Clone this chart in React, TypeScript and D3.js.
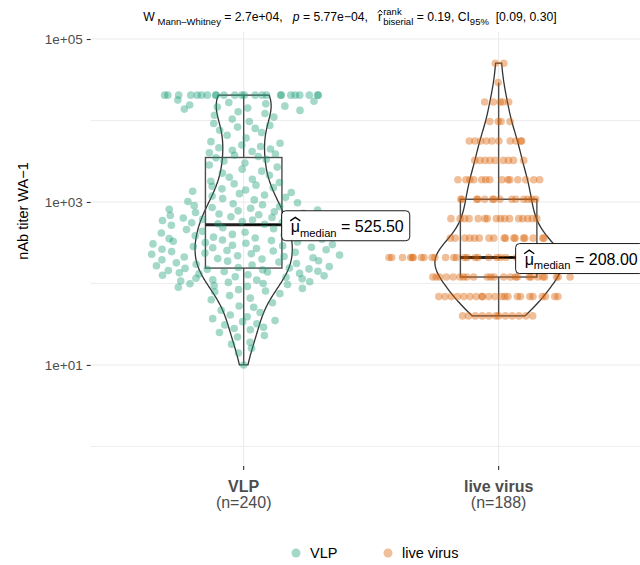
import { useEffect, useRef } from 'react'
import * as d3 from 'd3'

const groups = ['VLP', 'live virus']
const groupColors = ['#1B9E77', '#D95F02']

// VLP nAb titers, one value per sample (n = 240)
const vlpTiters = [
  10, 14, 16, 18, 19, 22, 23, 25, 27, 28, 29, 31, 32, 34, 35, 37, 39, 41, 44, 47,
  51, 53, 58, 63, 66, 71, 75, 79, 81, 84, 87, 90, 92, 94, 97, 99, 100, 103, 105, 107,
  110, 111, 114, 116, 119, 121, 124, 126, 128, 131, 133, 135, 138, 140, 141, 144, 147, 149, 151, 153,
  155, 157, 161, 165, 168, 172, 176, 179, 183, 188, 190, 195, 199, 202, 207, 211, 214, 219, 223, 228,
  232, 236, 241, 246, 250, 254, 259, 263, 269, 274, 278, 284, 289, 295, 300, 306, 312, 317, 323, 330,
  336, 342, 349, 355, 362, 370, 377, 385, 392, 400, 409, 417, 426, 436, 447, 458, 470, 483, 500, 519,
  532, 540, 548, 556, 565, 574, 583, 592, 602, 612, 623, 634, 646, 658, 671, 684, 698, 713, 728, 744,
  760, 778, 796, 815, 835, 856, 878, 901, 925, 950, 980, 1015, 1060, 1100, 1140, 1180, 1220, 1265, 1310, 1355,
  1400, 1450, 1500, 1555, 1610, 1670, 1730, 1800, 1900, 2010, 2130, 2260, 2390, 2530, 2680, 2840, 3010, 3190, 3330, 3480,
  3620, 3750, 3880, 4020, 4160, 4310, 4460, 4620, 4800, 5000, 5250, 5500, 6100, 6600, 7100, 7600, 8000, 8300, 8700, 9200,
  9700, 10400, 11000, 11600, 12200, 12800, 13300, 13800, 14200, 14600, 15000, 15500, 16000, 16600, 17200, 17800, 20480, 20480, 20480, 20480,
  20480, 20480, 20480, 20480, 20480, 20480, 20480, 20480, 20480, 20480, 20480, 20480, 20480, 20480, 20480, 20480, 20480, 20480, 20480, 20480,
]

// live virus titers sit on dilution steps; number of samples per step (n = 188)
const liveLevels = [40, 69, 120, 208, 360, 624, 1080, 1871, 3240, 5612, 9720, 16836, 29160, 50508]
const liveCounts = [12, 22, 24, 38, 17, 16, 14, 14, 9, 10, 4, 5, 1, 2]

const yTicks = [1e1, 1e3, 1e5]
const yTickLabels = ['1e+01', '1e+03', '1e+05']
const yMinorTicks = [1e0, 1e2, 1e4]

// subtitle pieces: [text, kind]
const titleParts: [string, string][] = [
  ['W', 'n'],
  [' Mann–Whitney', 'sub'],
  [' = 2.7e+04,   ', 'n'],
  ['p', 'i'],
  [' = 5.77e−04,   ', 'n'],
  ['r', 'hat'],
  ['rank|biserial', 'supsub'],
  [' = 0.19, CI', 'n'],
  ['95%', 'sub'],
  ['  [0.09, 0.30]', 'n'],
]

const FONT = '"Liberation Sans", Arial, Helvetica, sans-serif'

function vdc(n: number) {
  let v = 0
  let denom = 1
  while (n > 0) {
    denom *= 2
    v += (n % 2) / denom
    n = Math.floor(n / 2)
  }
  return v
}

function richText(parent: any, parts: [string, string][], x: number, base: number, size: number, subScale = 0.72) {
  const g = parent.append('g').attr('font-family', FONT).attr('fill', '#000')
  let cx = x
  const add = (txt: string, xx: number, yy: number, fs: number) =>
    g.append('text').attr('x', xx).attr('y', yy).attr('font-size', fs).style('white-space', 'pre').text(txt)
  for (const [txt, kind] of parts) {
    if (kind === 'supsub') {
      const [sup, sub] = txt.split('|')
      const a = add(sup, cx + 1, base - size * 0.5, size * subScale)
      const b = add(sub, cx + 1, base + size * 0.32, size * subScale)
      cx += Math.max(a.node().getComputedTextLength(), b.node().getComputedTextLength()) + 1
      continue
    }
    const small = kind === 'sub'
    const t = add(txt, cx, small ? base + size * 0.3 : base, small ? size * subScale : size)
    if (kind === 'i') t.attr('font-style', 'italic')
    const w = t.node().getComputedTextLength()
    if (kind === 'hat') {
      const top = base - size * 0.9
      g.append('path')
        .attr('d', `M${cx - w * 0.05},${top + size * 0.22}L${cx + w * 0.5},${top}L${cx + w * 1.05},${top + size * 0.22}`)
        .attr('fill', 'none')
        .attr('stroke', '#000')
        .attr('stroke-width', size * 0.08)
    }
    cx += w
  }
  return { g, width: cx - x }
}

export default function App() {
  const ref = useRef<SVGSVGElement>(null)

  useEffect(() => {
    const node = ref.current
    if (!node) return
    const svg = d3.select(node)
    svg.selectAll('*').remove()

    const panel = { left: 90.7, right: 651.6, top: 32, bottom: 466 }
    const x = d3.scalePoint<string>().domain(groups).range([panel.left, panel.right]).padding(0.6)
    const y = d3.scaleLog().domain([10 ** -0.24, 10 ** 5.086]).range([panel.bottom, panel.top])
    const step = x.step()

    const liveTiters = liveLevels.flatMap((v, i) => d3.range(liveCounts[i]).map(() => v))
    const data = [vlpTiters, liveTiters]

    // grid
    const grid = svg.append('g')
    grid
      .selectAll('line.minor')
      .data(yMinorTicks)
      .join('line')
      .attr('x1', panel.left)
      .attr('x2', panel.right)
      .attr('y1', (d) => y(d))
      .attr('y2', (d) => y(d))
      .attr('stroke', '#EBEBEB')
      .attr('stroke-width', 0.9)
    grid
      .selectAll('line.major')
      .data(yTicks)
      .join('line')
      .attr('x1', panel.left)
      .attr('x2', panel.right)
      .attr('y1', (d) => y(d))
      .attr('y2', (d) => y(d))
      .attr('stroke', '#EBEBEB')
      .attr('stroke-width', 1.1)
    grid
      .selectAll('line.vert')
      .data(groups)
      .join('line')
      .attr('x1', (d) => x(d)!)
      .attr('x2', (d) => x(d)!)
      .attr('y1', panel.top)
      .attr('y2', panel.bottom)
      .attr('stroke', '#EBEBEB')
      .attr('stroke-width', 1.1)

    // axes
    svg
      .append('g')
      .attr('transform', `translate(${panel.left},0)`)
      .call(d3.axisLeft(y).tickValues(yTicks).tickFormat((_, i) => yTickLabels[i]).tickSize(4).tickPadding(4))
      .call((g) => g.select('.domain').remove())
      .call((g) => g.selectAll('line').attr('stroke', '#333').attr('stroke-width', 1.1))
      .call((g) => g.selectAll('text').attr('fill', '#4D4D4D').attr('font-size', 13.5).attr('font-family', FONT))

    const xAxis = svg.append('g')
    groups.forEach((grp, i) => {
      const cx = x(grp)!
      xAxis.append('line').attr('x1', cx).attr('x2', cx).attr('y1', panel.bottom).attr('y2', panel.bottom + 4).attr('stroke', '#333').attr('stroke-width', 1.1)
      xAxis
        .append('text')
        .attr('x', cx)
        .attr('y', 492)
        .attr('text-anchor', 'middle')
        .attr('font-family', FONT)
        .attr('font-weight', 'bold')
        .attr('font-size', 16)
        .attr('fill', '#4D4D4D')
        .text(grp)
      xAxis
        .append('text')
        .attr('x', cx)
        .attr('y', 508)
        .attr('text-anchor', 'middle')
        .attr('font-family', FONT)
        .attr('font-size', 16)
        .attr('fill', '#4D4D4D')
        .text(`(n=${data[i].length})`)
    })

    svg
      .append('text')
      .attr('transform', 'translate(28,211) rotate(-90)')
      .attr('text-anchor', 'middle')
      .attr('font-family', FONT)
      .attr('font-size', 14.5)
      .attr('fill', '#000')
      .text('nAb titer WA−1')

    // violins (trimmed gaussian KDE on log10 values, area scaled)
    const logs = data.map((vals) => vals.map(Math.log10).sort(d3.ascending))
    const dens = logs.map((l) => {
      const n = l.length
      const iqr = d3.quantileSorted(l, 0.75)! - d3.quantileSorted(l, 0.25)!
      const bw = 0.9 * Math.min(d3.deviation(l)!, iqr / 1.34) * Math.pow(n, -0.2)
      const lo = l[0]
      const hi = l[n - 1]
      return d3.range(512).map((k) => {
        const t = lo + ((hi - lo) * k) / 511
        let s = 0
        for (const v of l) {
          const z = (t - v) / bw
          s += Math.exp(-0.5 * z * z)
        }
        return { t, d: s / (n * bw * Math.sqrt(2 * Math.PI)) }
      })
    })
    const maxD = d3.max(dens.flat(), (p) => p.d)!

    groups.forEach((grp, i) => {
      const cx = x(grp)!
      const area = d3
        .area<{ t: number; d: number }>()
        .y((p) => y(10 ** p.t))
        .x0((p) => cx - (p.d / maxD) * step * 0.25)
        .x1((p) => cx + (p.d / maxD) * step * 0.25)
      svg
        .append('path')
        .attr('d', area(dens[i]))
        .attr('fill', 'none')
        .attr('stroke', '#333')
        .attr('stroke-width', 1.3)
    })

    // boxplots on log scale
    groups.forEach((grp, i) => {
      const cx = x(grp)!
      const l = logs[i]
      const q1 = d3.quantileSorted(l, 0.25)!
      const med = d3.quantileSorted(l, 0.5)!
      const q3 = d3.quantileSorted(l, 0.75)!
      const iqr = q3 - q1
      const wHi = d3.max(l.filter((v) => v <= q3 + 1.5 * iqr))!
      const wLo = d3.min(l.filter((v) => v >= q1 - 1.5 * iqr))!
      const hw = step * 0.15
      const g = svg.append('g').attr('stroke', '#4D4D4D').attr('fill', 'none')
      g.append('line').attr('x1', cx).attr('x2', cx).attr('y1', y(10 ** q3)).attr('y2', y(10 ** wHi)).attr('stroke-width', 1.4)
      g.append('line').attr('x1', cx).attr('x2', cx).attr('y1', y(10 ** q1)).attr('y2', y(10 ** wLo)).attr('stroke-width', 1.4)
      g.append('rect')
        .attr('x', cx - hw)
        .attr('width', hw * 2)
        .attr('y', y(10 ** q3))
        .attr('height', y(10 ** q1) - y(10 ** q3))
        .attr('stroke-width', 1.4)
      g.append('line')
        .attr('x1', cx - hw)
        .attr('x2', cx + hw)
        .attr('y1', y(10 ** med))
        .attr('y2', y(10 ** med))
        .attr('stroke', '#222')
        .attr('stroke-width', 3)
    })

    // points: quasirandom (scrambled van der Corput) spread scaled by local density
    const spread = [98, 115]
    const localBw = [0.12, 0.05]
    groups.forEach((grp, i) => {
      const cx = x(grp)!
      const l = logs[i]
      const n = l.length
      const local = l.map((v) => d3.sum(l, (u) => Math.exp(-0.5 * ((v - u) / localBw[i]) ** 2)))
      const maxLocal = d3.max(local)!
      const pts = l.map((v, r) => ({
        v,
        off: (vdc(((r * 97) % n) + 1) * 2 - 1) * spread[i] * (local[r] / maxLocal),
      }))
      svg
        .append('g')
        .selectAll('circle')
        .data(pts)
        .join('circle')
        .attr('cx', (p) => cx + p.off)
        .attr('cy', (p) => y(10 ** p.v))
        .attr('r', 3.8)
        .attr('fill', groupColors[i])
        .attr('fill-opacity', 0.4)
    })

    // median labels
    const labelOffset = [
      { dx: 38, dy: 1 },
      { dx: 17, dy: 1 },
    ]
    groups.forEach((grp, i) => {
      const cx = x(grp)!
      const med = d3.median(data[i])!
      const my = y(med)
      const left = cx + labelOffset[i].dx
      const cy = my + labelOffset[i].dy
      svg.append('line').attr('x1', cx).attr('x2', left).attr('y1', my).attr('y2', my).attr('stroke', '#000').attr('stroke-width', 1)
      const lg = svg.append('g')
      const rect = lg.append('rect').attr('fill', '#fff').attr('stroke', '#000').attr('stroke-width', 0.9).attr('rx', 4)
      const rt = richText(lg, [['μ', 'hat'], ['median', 'sub'], [` = ${med.toFixed(2)}`, 'n']], left + 9, cy + 6, 16, 0.7)
      rect.attr('x', left).attr('y', cy - 15).attr('width', rt.width + 15).attr('height', 30)
    })

    // subtitle
    const title = richText(svg, titleParts, 0, 21, 12.2, 0.78)
    title.g.attr('transform', `translate(${350 - title.width / 2},0)`)

    // legend
    const legendX = [296, 388]
    groups.forEach((grp, i) => {
      svg.append('circle').attr('cx', legendX[i]).attr('cy', 553).attr('r', 4.5).attr('fill', groupColors[i]).attr('fill-opacity', 0.4)
      svg
        .append('text')
        .attr('x', legendX[i] + 14)
        .attr('y', 558)
        .attr('font-family', FONT)
        .attr('font-size', 14.5)
        .attr('fill', '#000')
        .text(grp)
    })
  }, [])

  return (
    <svg
      ref={ref}
      width={640}
      height={565}
      style={{ position: 'absolute', left: 0, top: 0, background: '#fff', display: 'block' }}
    />
  )
}
